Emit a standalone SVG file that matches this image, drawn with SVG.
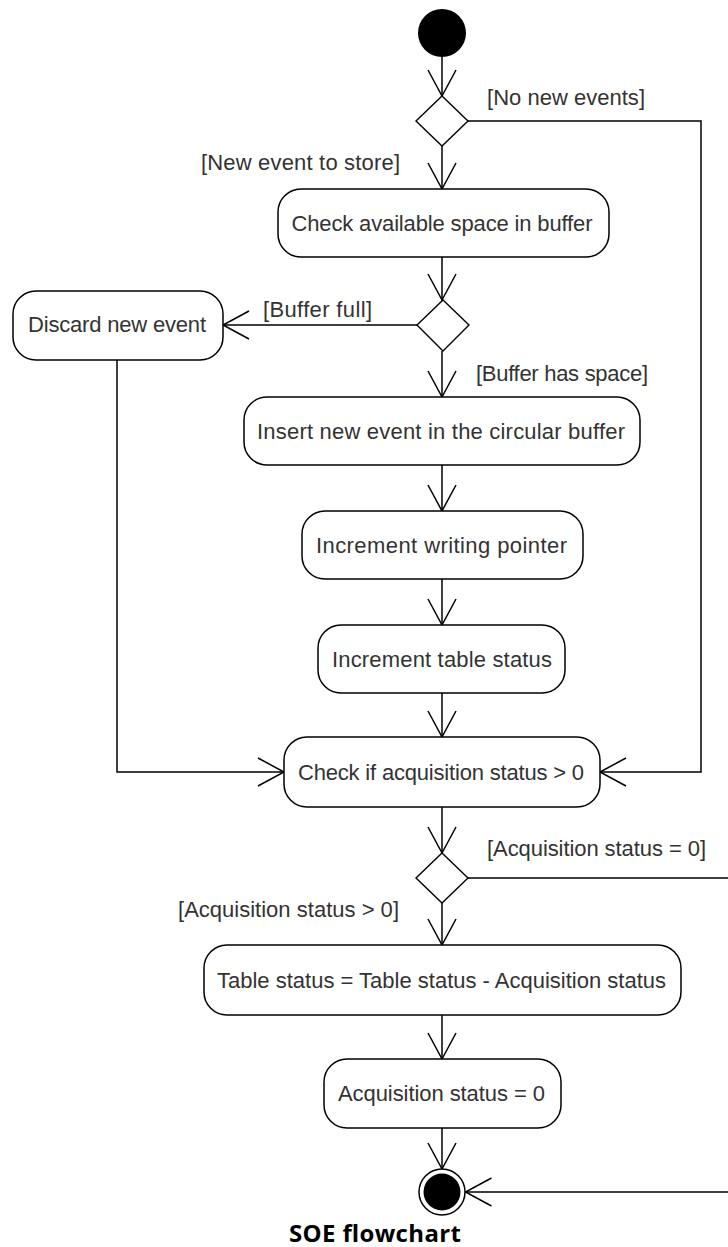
<svg xmlns="http://www.w3.org/2000/svg" width="728" height="1247" viewBox="0 0 728 1247">
<style>
.box{fill:#fff;stroke:#000;stroke-width:1.5}
.dia{fill:#fff;stroke:#000;stroke-width:1.4}
.t{font-family:"Liberation Sans",Arial,sans-serif;font-size:22px;fill:#333;text-anchor:middle}
.cap{font-family:"Open Sans","Liberation Sans",sans-serif;font-size:24px;font-weight:bold;fill:#000;text-anchor:middle}
.c{fill:none;stroke:#000;stroke-width:1.5;marker-end:url(#arr)}
</style>
<defs>
<marker id="arr" markerUnits="userSpaceOnUse" viewBox="-30 -16 32 32" markerWidth="32" markerHeight="32" refX="0" refY="0" orient="auto" overflow="visible">
<path d="M-26,-14 L0,0 L-26,14" fill="none" stroke="#000" stroke-width="1.5"/>
</marker>
</defs>
<g id="connectors">
<path class="c" d="M442,57 V96"/>
<path class="c" d="M442,146 V189"/>
<path class="c" d="M468,121 H701 V772 H600"/>
<path class="c" d="M442,257 V300"/>
<path class="c" d="M417,325 H223"/>
<path class="c" d="M442,351 V397"/>
<path class="c" d="M442,465 V511"/>
<path class="c" d="M442,579 V625"/>
<path class="c" d="M442,693 V737"/>
<path class="c" d="M117,360 V772 H284"/>
<path class="c" d="M442,807 V853"/>
<path class="c" d="M442,903 V945"/>
<path class="c" d="M468,878 H745 V1192 H465.5"/>
<path class="c" d="M442,1015 V1059"/>
<path class="c" d="M442,1128 V1169"/>
<text class="t" x="566" y="105" textLength="158">[No new events]</text>
<text class="t" x="300.5" y="170" textLength="199">[New event to store]</text>
<text class="t" x="317.5" y="317" textLength="109">[Buffer full]</text>
<text class="t" x="562" y="381" textLength="172">[Buffer has space]</text>
<text class="t" x="596.5" y="856" textLength="219">[Acquisition status = 0]</text>
<text class="t" x="288.5" y="917" textLength="221">[Acquisition status &gt; 0]</text>
</g>
<g id="start"><circle cx="442" cy="33" r="24" fill="#000"/></g>
<g id="decision1"><polygon class="dia" points="442,96 468,121 442,146 416,121"/></g>
<g id="checkSpace"><rect class="box" x="278" y="189" width="331" height="68" rx="23"/><text class="t" x="442" y="231" textLength="301">Check available space in buffer</text></g>
<g id="decision2"><polygon class="dia" points="443,300 469,325 443,351 417,325"/></g>
<g id="discard"><rect class="box" x="13" y="291" width="210" height="69" rx="23"/><text class="t" x="117" y="332" textLength="178">Discard new event</text></g>
<g id="insert"><rect class="box" x="244" y="397" width="396" height="68" rx="23"/><text class="t" x="441" y="439" textLength="368">Insert new event in the circular buffer</text></g>
<g id="incPointer"><rect class="box" x="302" y="511" width="281" height="68" rx="23"/><text class="t" x="441.5" y="553" textLength="251">Increment writing pointer</text></g>
<g id="incTable"><rect class="box" x="318" y="625" width="247" height="68" rx="23"/><text class="t" x="442" y="667" textLength="220">Increment table status</text></g>
<g id="checkAcq"><rect class="box" x="284" y="737" width="316" height="70" rx="23"/><text class="t" x="441" y="780" textLength="286">Check if acquisition status &gt; 0</text></g>
<g id="decision3"><polygon class="dia" points="442,853 468,878 442,903 416,878"/></g>
<g id="tableStatus"><rect class="box" x="204" y="945" width="477" height="70" rx="23"/><text class="t" x="441.5" y="988" textLength="449">Table status = Table status - Acquisition status</text></g>
<g id="acqZero"><rect class="box" x="324" y="1059" width="237" height="69" rx="23"/><text class="t" x="441.5" y="1101" textLength="207">Acquisition status = 0</text></g>
<g id="end"><circle cx="442" cy="1192" r="23" fill="#fff" stroke="#000" stroke-width="1.5"/><circle cx="442" cy="1192" r="18.5" fill="#000"/></g>
<g id="caption"><text class="cap" x="375" y="1242" textLength="172">SOE flowchart</text></g>
</svg>
